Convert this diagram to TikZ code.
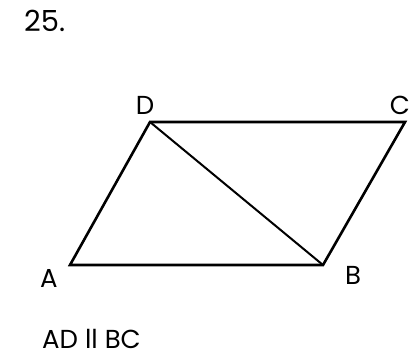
\documentclass[tikz,border=0pt]{standalone}
\usepackage{fontspec}
\setmainfont{Poppins}
\usetikzlibrary{positioning}

\begin{document}
\begin{tikzpicture}[x=1pt, y=-1pt,
        side/.style={line width=2.6pt, line join=miter},
        diag/.style={line width=2pt},
        lbl/.style={font=\fontsize{26}{29}\selectfont, inner sep=0pt, anchor=base},
        num/.style={font=\fontsize{29}{32}\selectfont, inner sep=0pt, anchor=base west}
      ]
        \useasboundingbox (0,0) rectangle (414,357);
        \coordinate (A) at (70,265);
        \coordinate (B) at (323,265);
        \coordinate (C) at (405,122);
        \coordinate (D) at (150,122);
        \node[num] (nr) at (24,31) {25.};
        \node[lbl] (lD) at (145,114) {D};
        \node[lbl] (lC) at (400,114) {C};
        \node[lbl] (lA) at (49,287) {A};
        \node[lbl] (lB) at (353,284) {B};
        \node[lbl, anchor=base west] (note) at (42,348) {AD ll BC};
        \draw[side] (A) -- (B) -- (C) -- (D) -- cycle;
        \draw[diag] (D) -- (B);
      \end{tikzpicture}
\end{document}
